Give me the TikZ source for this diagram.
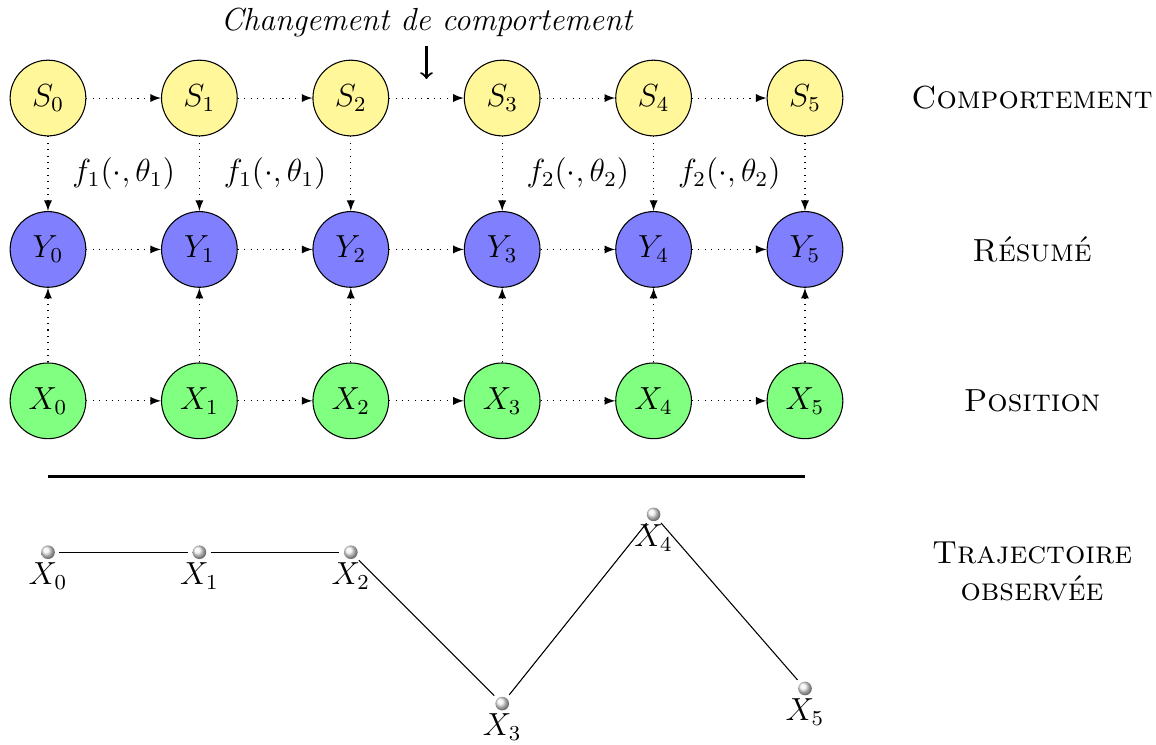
\documentclass[tikz,border=0pt]{standalone}
\usepackage{amsmath,amssymb}
\usepackage{tikz}
\usetikzlibrary{arrows,shadings}
\usepackage{xcolor}

\definecolor{jaune}{RGB}{255,247,153}

\begin{document}
\begin{tikzpicture}[>=latex,font=\large,
  etat/.style={circle,draw,minimum size=1cm,inner sep=0pt},
  comp/.style={etat,fill=jaune},
  resu/.style={etat,fill=blue!50},
  posi/.style={etat,fill=green!50},
  lien/.style={->,dotted},
  niveau/.style={font=\large\scshape,align=center},
  pt/.style={circle,inner sep=0pt,minimum size=0.18cm,shading=ball,ball color=gray!12},
  every label/.style={inner sep=1pt},
  trajet/.style={shorten <=1.5pt,shorten >=1.5pt}]
\useasboundingbox (-0.634,-8.534) rectangle (14.637,1.295);
% comportement
\node[comp] (s0) at (0,0) {$S_0$};
\node[comp] (s1) at (2,0) {$S_1$};
\node[comp] (s2) at (4,0) {$S_2$};
\node[comp] (s3) at (6,0) {$S_3$};
\node[comp] (s4) at (8,0) {$S_4$};
\node[comp] (s5) at (10,0) {$S_5$};
% resume
\node[resu] (y0) at (0,-2) {$Y_0$};
\node[resu] (y1) at (2,-2) {$Y_1$};
\node[resu] (y2) at (4,-2) {$Y_2$};
\node[resu] (y3) at (6,-2) {$Y_3$};
\node[resu] (y4) at (8,-2) {$Y_4$};
\node[resu] (y5) at (10,-2) {$Y_5$};
% position
\node[posi] (x0) at (0,-4) {$X_0$};
\node[posi] (x1) at (2,-4) {$X_1$};
\node[posi] (x2) at (4,-4) {$X_2$};
\node[posi] (x3) at (6,-4) {$X_3$};
\node[posi] (x4) at (8,-4) {$X_4$};
\node[posi] (x5) at (10,-4) {$X_5$};
% liens
\draw[lien] (s0) -- (s1); \draw[lien] (s1) -- (s2); \draw[lien] (s2) -- (s3);
\draw[lien] (s3) -- (s4); \draw[lien] (s4) -- (s5);
\draw[lien] (y0) -- (y1); \draw[lien] (y1) -- (y2); \draw[lien] (y2) -- (y3);
\draw[lien] (y3) -- (y4); \draw[lien] (y4) -- (y5);
\draw[lien] (x0) -- (x1); \draw[lien] (x1) -- (x2); \draw[lien] (x2) -- (x3);
\draw[lien] (x3) -- (x4); \draw[lien] (x4) -- (x5);
\draw[lien] (s0) -- (y0); \draw[lien] (s1) -- (y1); \draw[lien] (s2) -- (y2);
\draw[lien] (s3) -- (y3); \draw[lien] (s4) -- (y4); \draw[lien] (s5) -- (y5);
\draw[lien] (x0) -- (y0); \draw[lien] (x1) -- (y1); \draw[lien] (x2) -- (y2);
\draw[lien] (x3) -- (y3); \draw[lien] (x4) -- (y4); \draw[lien] (x5) -- (y5);
% fonctions
\node (f1a) at (1,-1) {$f_1(\cdot,\theta_1)$};
\node (f1b) at (3,-1) {$f_1(\cdot,\theta_1)$};
\node (f2a) at (7,-1) {$f_2(\cdot,\theta_2)$};
\node (f2b) at (9,-1) {$f_2(\cdot,\theta_2)$};
% changement
\node[font=\large\itshape] (chg) at (5,1) {Changement de comportement};
\coordinate (chgfin) at (5,0.25);
\draw[-to,thick] (chg) -- (chgfin);
% niveaux
\node[niveau] (ncomp) at (13,0) {Comportement};
\node[niveau] (nresu) at (13,-2) {Résumé};
\node[niveau] (nposi) at (13,-4) {Position};
\node[niveau] (ntraj) at (13,-6.25) {Trajectoire\\observée};
% separation
\draw[line width=1.2pt] (0,-5) -- (10,-5);
% trajectoire
\node[pt,label=below:$X_0$] (t0) at (0,-6) {};
\node[pt,label=below:$X_1$] (t1) at (2,-6) {};
\node[pt,label=below:$X_2$] (t2) at (4,-6) {};
\node[pt,label=below:$X_3$] (t3) at (6,-8) {};
\node[pt,label=below:$X_4$] (t4) at (8,-5.5) {};
\node[pt,label=below:$X_5$] (t5) at (10,-7.8) {};
\draw[trajet] (t0) -- (t1); \draw[trajet] (t1) -- (t2); \draw[trajet] (t2) -- (t3);
\draw[trajet] (t3) -- (t4); \draw[trajet] (t4) -- (t5);
\end{tikzpicture}
\end{document}
